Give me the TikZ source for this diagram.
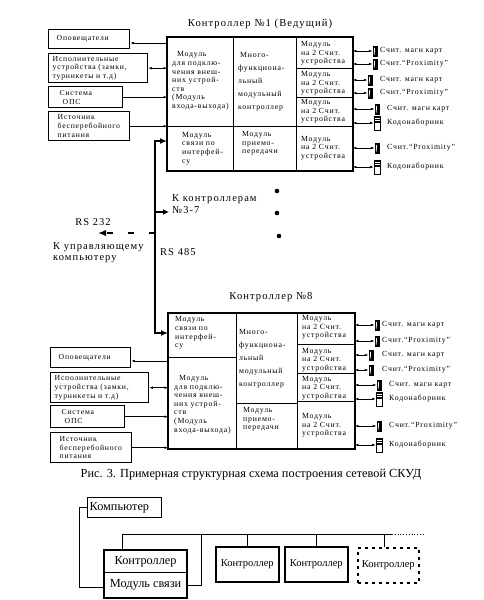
\documentclass[tikz,border=0pt]{standalone}
\usepackage{fontspec}
\setmainfont{Liberation Serif}
\newfontfamily\lsf[LetterSpace=10]{Liberation Serif}
\newfontfamily\lsw[LetterSpace=10]{Liberation Serif}
\usetikzlibrary{arrows.meta}
\begin{document}
\begin{tikzpicture}[x=1pt,y=-1pt,
  cell/.style={draw, line width=0.9pt, inner sep=0pt, anchor=north west},
  ctext/.style={font=\fontsize{7.8}{8.6}\selectfont\lsf, align=left, inner sep=0pt, anchor=west},
  mtext/.style={font=\fontsize{7.8}{13}\selectfont\lsf, align=left, inner sep=0pt, anchor=west},
  pbox/.style={draw, line width=1.4pt, inner ysep=0pt, anchor=north west, align=left, font=\fontsize{7.7}{8.7}\selectfont\lsf},
  reader/.style={fill=black, minimum width=5pt, minimum height=11pt, inner sep=0pt,
    path picture={\draw[white, line width=0.8pt] ([xshift=-0.4pt,yshift=-2.5pt]path picture bounding box.north) -- ([xshift=-0.8pt,yshift=2pt]path picture bounding box.south);}},
  keypad/.style={draw, line width=0.9pt, fill=white, minimum width=6pt, minimum height=14pt, inner sep=0pt,
    path picture={\foreach \k in {1,...,4}{\draw[line width=0.6pt] ([yshift=-\k*1.6pt]path picture bounding box.north west) -- ([yshift=-\k*1.6pt]path picture bounding box.north east);}}},
  rlabel/.style={font=\fontsize{7.8}{9}\selectfont\lsf, inner sep=0pt, anchor=west},
  title/.style={font=\fontsize{10.6}{12}\selectfont\lsw, inner sep=0pt},
  wlabel/.style={font=\fontsize{10.5}{11.5}\selectfont\lsw, inner sep=0pt, align=left},
  biarr/.style={{Latex[length=3.5pt,width=2.6pt]}-{Latex[length=3.5pt,width=2.6pt]}, line width=0.5pt},
  larr/.style={-{Latex[length=3.5pt,width=2.6pt]}, line width=0.5pt},
  bus/.style={line width=2.8pt},
  frame/.style={line width=1.8pt},
  bbox/.style={draw, line width=1.3pt, inner sep=0pt, anchor=north west, font=\fontsize{12.3}{14}\selectfont},
  sbox/.style={draw, line width=1.5pt, inner sep=0pt, anchor=north west, font=\fontsize{10.5}{12}\selectfont}
]
\fill[white] (0,0) rectangle (483,600);
\useasboundingbox (0,0) rectangle (483,600);

% ---------------- Controller 1 ----------------
\node[title] (tt1) at (260,24) {Контроллер №1 (Ведущий)};
\node[cell, minimum width=66pt, minimum height=89pt] (c1io) at (167,37) {};
\node[cell, minimum width=63pt, minimum height=89pt] (c1mf) at (233,37) {};
\node[cell, minimum width=66pt, minimum height=44pt] (c1com) at (167,126) {};
\node[cell, minimum width=63pt, minimum height=44pt] (c1tr) at (233,126) {};
\node[cell, minimum width=56pt, minimum height=31pt] (c1r1) at (296,37) {};
\node[cell, minimum width=56pt, minimum height=29pt] (c1r2) at (296,68) {};
\node[cell, minimum width=56pt, minimum height=29pt] (c1r3) at (296,97) {};
\node[cell, minimum width=56pt, minimum height=44pt] (c1r4) at (296,126) {};
\draw[frame] (c1io.north west) rectangle (c1r4.south east);

\node[ctext] (t1io) at (172,81) {\hspace*{5pt}Модуль\\для подклю-\\чения внеш-\\них устрой-\\ств\\(Модуль\\входа-выхода)};
\node[mtext] (t1mf) at (238,82) {\hspace*{2pt}Много-\\функциона-\\льный\\модульный\\контроллер};
\node[ctext] (t1com) at (182,148.5) {Модуль\\связи по\\интерфей-\\су};
\node[ctext] (t1tr) at (242,143.5) {Модуль\\приемо-\\передачи};
\node[ctext] (t1r1) at (301,53.5) {Модуль\\на 2 Счит.\\устройства};
\node[ctext] (t1r2) at (301,83.5) {Модуль\\на 2 Счит.\\устройства};
\node[ctext] (t1r3) at (301,111.5) {Модуль\\на 2 Счит.\\устройства};
\node[ctext] (t1r4) at (301,148) {Модуль\\на 2 Счит.\\устройства};

% peripherals C1
\node[pbox, inner xsep=8pt, text width=65pt, minimum height=19pt] (p1a) at (48,29) {Оповещатели};
\node[pbox, inner xsep=4pt, text width=91pt, minimum height=29pt] (p1b) at (48,53) {Исполнительные\\устройства (замки,\\турникеты и т.д)};
\node[pbox, inner xsep=11pt, text width=52pt, minimum height=21pt] (p1c) at (48,86) {Система\\\hspace*{3pt}ОПС};
\node[pbox, inner xsep=9pt, text width=63pt, minimum height=29pt] (p1d) at (48,111) {Источник\\бесперебойного\\питания};
\draw[larr] (c1io.west |- 0,43) -- (p1a.east |- 0,43);
\draw[biarr] (p1b.east) -- (c1io.west |- p1b.east);
\draw[larr] (p1c.east) -- (c1io.west |- p1c.east);
\draw[larr] (p1d.east) -- (c1io.west |- p1d.east);

% readers C1
\node[reader] (c1i1) at (375,51) {};
\node[reader] (c1i2) at (375,64) {};
\node[reader] (c1i3) at (370,80) {};
\node[reader] (c1i4) at (370,93) {};
\node[reader] (c1i5) at (377,109) {};
\node[keypad] (c1i6) at (377,123) {};
\node[reader] (c1i7) at (377,148) {};
\node[keypad] (c1i8) at (377,167) {};
\draw[biarr] (c1r1.east |- c1i1.west) -- (c1i1.west);
\draw[biarr] (c1r1.east |- c1i2.west) -- (c1i2.west);
\draw[biarr] (c1r2.east |- c1i3.west) -- (c1i3.west);
\draw[biarr] (c1r2.east |- c1i4.west) -- (c1i4.west);
\draw[biarr] (c1r3.east |- c1i5.west) -- (c1i5.west);
\draw[biarr] (c1r3.east |- c1i6.west) -- (c1i6.west);
\draw[biarr] (c1r4.east |- c1i7.west) -- (c1i7.west);
\draw[biarr] (c1r4.east |- c1i8.west) -- (c1i8.west);
\node[rlabel] (l1a) at (380,51) {Счит. магн карт};
\node[rlabel] (l1b) at (380,64) {Счит.“Proximity”};
\node[rlabel] (l1c) at (380,80) {Счит. магн карт};
\node[rlabel] (l1d) at (380,93) {Счит.“Proximity”};
\node[rlabel] (l1e) at (387,109) {Счит. магн карт};
\node[rlabel] (l1f) at (387,123) {Кодонаборник};
\node[rlabel] (l1g) at (387,148) {Счит.“Proximity”};
\node[rlabel] (l1h) at (387,167) {Кодонаборник};

% ---------------- Controller 8 ----------------
\node[title] (tt8) at (271,297) {Контроллер №8};
\node[cell, minimum width=68pt, minimum height=44pt] (c8com) at (168,313) {};
\node[cell, minimum width=68pt, minimum height=91pt] (c8io) at (168,357) {};
\node[cell, minimum width=61pt, minimum height=90pt] (c8mf) at (236,313) {};
\node[cell, minimum width=61pt, minimum height=45pt] (c8tr) at (236,403) {};
\node[cell, minimum width=57pt, minimum height=31pt] (c8r1) at (297,313) {};
\node[cell, minimum width=57pt, minimum height=29pt] (c8r2) at (297,344) {};
\node[cell, minimum width=57pt, minimum height=28pt] (c8r3) at (297,373) {};
\node[cell, minimum width=57pt, minimum height=47pt] (c8r4) at (297,401) {};
\draw[frame] (c8com.north west) rectangle (c8r4.south east);

\node[ctext] (t8com) at (175,333) {Модуль\\связи по\\интерфей-\\су};
\node[ctext] (t8io) at (174,404.5) {\hspace*{5pt}Модуль\\для подклю-\\чения внеш-\\них устрой-\\ств\\(Модуль\\входа-выхода)};
\node[mtext] (t8mf) at (239,359) {Много-\\функциона-\\льный\\модульный\\контроллер};
\node[ctext] (t8tr) at (243,419.5) {Модуль\\приемо-\\передачи};
\node[ctext] (t8r1) at (302,327.5) {Модуль\\на 2 Счит.\\устройства};
\node[ctext] (t8r2) at (302,360) {Модуль\\на 2 Счит.\\устройства};
\node[ctext] (t8r3) at (302,388) {Модуль\\на 2 Счит.\\устройства};
\node[ctext] (t8r4) at (302,425.5) {Модуль\\на 2 Счит.\\устройства};

% peripherals C8
\node[pbox, inner xsep=8pt, text width=64pt, minimum height=20pt] (p8a) at (50,347) {Оповещатели};
\node[pbox, inner xsep=4pt, text width=90pt, minimum height=30pt] (p8b) at (50,372) {Исполнительные\\устройства (замки,\\турникеты и т.д)};
\node[pbox, inner xsep=11pt, text width=52pt, minimum height=22pt] (p8c) at (50,405) {Система\\\hspace*{3pt}ОПС};
\node[pbox, inner xsep=9pt, text width=63pt, minimum height=30pt] (p8d) at (50,432) {Источник\\бесперебойного\\питания};
\draw[larr] (c8io.west |- 0,361) -- (p8a.east |- 0,361);
\draw[biarr] (p8b.east) -- (c8io.west |- p8b.east);
\draw[larr] (p8c.east) -- (c8io.west |- p8c.east);
\draw[larr] (p8d.east) -- (c8io.west |- p8d.east);

% readers C8
\node[reader] (c8i1) at (377,325) {};
\node[reader] (c8i2) at (377,341) {};
\node[reader] (c8i3) at (371,355) {};
\node[reader] (c8i4) at (371,370) {};
\node[reader] (c8i5) at (379,385) {};
\node[keypad] (c8i6) at (379,399) {};
\node[reader] (c8i7) at (379,426) {};
\node[keypad] (c8i8) at (379,445) {};
\draw[biarr] (c8r1.east |- c8i1.west) -- (c8i1.west);
\draw[biarr] (c8r1.east |- c8i2.west) -- (c8i2.west);
\draw[biarr] (c8r2.east |- c8i3.west) -- (c8i3.west);
\draw[biarr] (c8r2.east |- c8i4.west) -- (c8i4.west);
\draw[biarr] (c8r3.east |- c8i5.west) -- (c8i5.west);
\draw[biarr] (c8r3.east |- c8i6.west) -- (c8i6.west);
\draw[biarr] (c8r4.east |- c8i7.west) -- (c8i7.west);
\draw[biarr] (c8r4.east |- c8i8.west) -- (c8i8.west);
\node[rlabel] (l8a) at (382,325) {Счит. магн карт};
\node[rlabel] (l8b) at (382,341) {Счит.“Proximity”};
\node[rlabel] (l8c) at (382,355) {Счит. магн карт};
\node[rlabel] (l8d) at (382,370) {Счит.“Proximity”};
\node[rlabel] (l8e) at (389,385) {Счит. магн карт};
\node[rlabel] (l8f) at (389,399) {Кодонаборник};
\node[rlabel] (l8g) at (389,426) {Счит.“Proximity”};
\node[rlabel] (l8h) at (389,445) {Кодонаборник};

% ---------------- Bus ----------------
\coordinate (bt) at (155,141);
\coordinate (bb) at (155,333);
\draw[bus, {Latex[length=7pt,width=6pt]}-{Latex[length=7pt,width=6pt]}] (c1com.west |- bt) -- (bt) -- (bb) -- (c8com.west |- bb);
\coordinate (kb) at (155,212);
\coordinate (kt) at (169,212);
\draw[line width=2pt, -{Latex[length=6pt,width=6pt]}] (kb) -- (kt);
\coordinate (rb) at (155,233);
\coordinate (rt) at (98,233);
\draw[line width=2.6pt, dash pattern=on 6pt off 15pt, -{Latex[length=8pt,width=6.5pt]}] (rb) -- (rt);

\node[wlabel, anchor=west] (lk) at (172,204) {К контроллерам\\№3-7};
\node[wlabel] (l232) at (93,222) {RS 232};
\node[wlabel, anchor=west] (lpc) at (53,252.5) {К управляющему\\компьютеру};
\node[wlabel, anchor=west] (l485) at (160,252) {RS 485};

\fill (277,191) circle (2.3);
\fill (277,213) circle (2.3);
\fill (279,236) circle (2.3);

% caption
\node[font=\fontsize{12.3}{14}\selectfont, inner sep=0pt] (cap) at (251,475) {Рис. 3. Примерная структурная схема построения сетевой СКУД};

% ---------------- Bottom diagram ----------------
\node[bbox, inner xsep=2pt, text width=70pt, align=left, minimum height=20pt] (comp) at (87,497) {Компьютер};
\node[bbox, minimum width=82pt, minimum height=22pt] (mc) at (104,550) {Контроллер};
\node[bbox, minimum width=82pt, minimum height=25pt] (ms) at (104,572) {Модуль связи};
\draw[line width=1.6pt] (mc.north west) rectangle (ms.south east);
\node[sbox, minimum width=63pt, minimum height=35pt] (k2) at (215,546) {Контроллер};
\node[sbox, minimum width=63pt, minimum height=35pt] (k3) at (284,546) {Контроллер};
\node[sbox, dash pattern=on 3pt off 4pt, minimum width=61pt, minimum height=35pt] (k4) at (357,547) {Контроллер};

\coordinate (lc) at (79,587);
\draw[line width=0.8pt] (comp.west) -| (lc) -- (ms.west |- lc);
\coordinate (rc) at (201,534);
\draw[line width=0.8pt] (ms.east) -| (rc);
\coordinate (bl) at (122,534);
\coordinate (br) at (392,534);
\coordinate (be) at (425,534);
\draw[line width=1pt] (bl) -- (br);
\draw[line width=0.8pt, dotted] (br) -- (be);
\draw[line width=0.8pt] (bl) -- (bl |- mc.north);
\draw[line width=0.8pt] (k2.north) -- (k2.north |- bl);
\draw[line width=0.8pt] (k3.north) -- (k3.north |- bl);
\draw[line width=0.8pt] ([xshift=-4pt]k4.north) -- ([xshift=-4pt]k4.north |- bl);
\end{tikzpicture}
\end{document}
